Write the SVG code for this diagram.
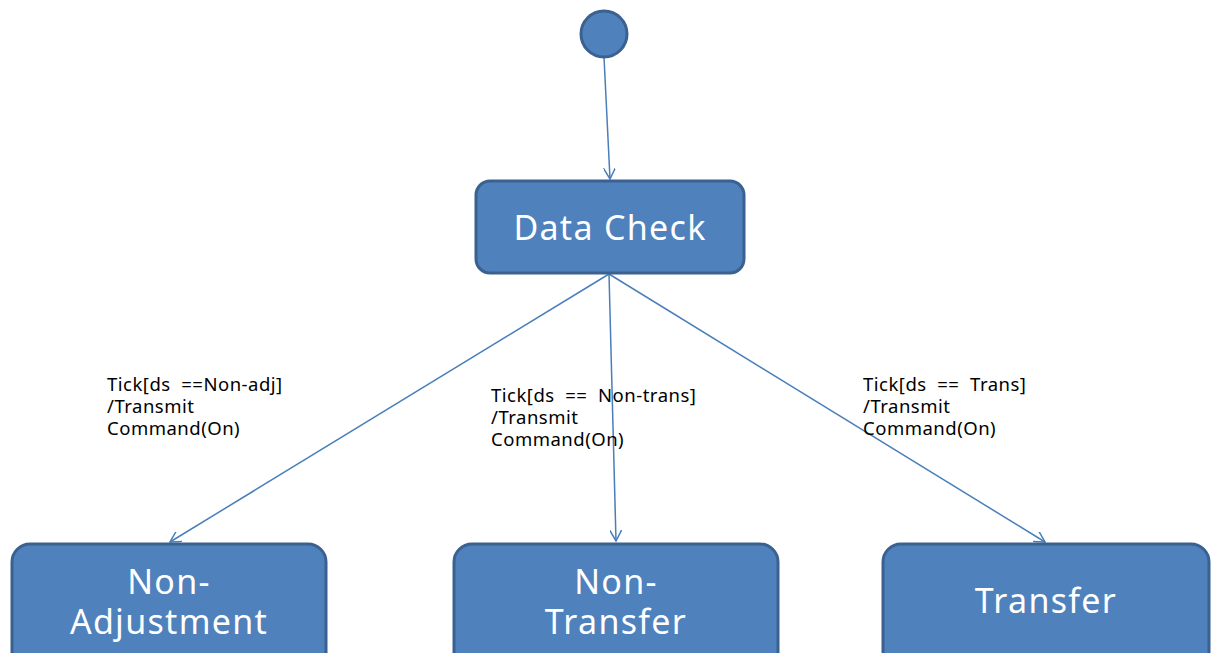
<svg xmlns="http://www.w3.org/2000/svg" width="1218" height="653" viewBox="0 0 1218 653">
<defs>
<style>
.node{fill:#4F81BD;stroke:#3A6190;stroke-width:3}
.nt{fill:#fff;font-family:"Noto Sans","Open Sans",sans-serif;font-size:34px;letter-spacing:1.3px;text-anchor:middle}
.lbl{fill:#000;font-family:"Noto Sans","Open Sans",sans-serif;font-size:18.5px;letter-spacing:0.5px;white-space:pre}
.edge{stroke:#4A7EBB;stroke-width:1.5;fill:none}
</style>
<marker id="arr" viewBox="0 0 12 12" refX="11" refY="6" markerWidth="12" markerHeight="12" markerUnits="userSpaceOnUse" orient="auto">
<path d="M0,0 L11,6 L0,12" fill="none" stroke="#4A7EBB" stroke-width="1.5"/>
</marker>
</defs>
<rect width="1218" height="653" fill="#fff"/>
<g id="connectors">
<line class="edge" x1="604" y1="57" x2="610" y2="179" marker-end="url(#arr)"/>
<line class="edge" x1="609" y1="274" x2="170" y2="542" marker-end="url(#arr)"/>
<line class="edge" x1="609" y1="274" x2="616" y2="541" marker-end="url(#arr)"/>
<line class="edge" x1="609" y1="274" x2="1045" y2="542" marker-end="url(#arr)"/>
<text class="lbl"><tspan x="107" y="391">Tick[ds  ==Non-adj]</tspan><tspan x="107" y="413">/Transmit</tspan><tspan x="107" y="435">Command(On)</tspan></text>
<text class="lbl"><tspan x="491" y="402">Tick[ds  ==  Non-trans]</tspan><tspan x="491" y="424">/Transmit</tspan><tspan x="491" y="446">Command(On)</tspan></text>
<text class="lbl"><tspan x="863" y="391">Tick[ds  ==  Trans]</tspan><tspan x="863" y="413">/Transmit</tspan><tspan x="863" y="435">Command(On)</tspan></text>
</g>
<g id="start"><circle class="node" cx="604" cy="34" r="23"/></g>
<g id="data-check"><rect class="node" x="476" y="181" width="268" height="92" rx="14"/><text class="nt" x="610" y="240">Data Check</text></g>
<g id="non-adjustment"><rect class="node" x="12" y="544" width="314" height="130" rx="18"/><text class="nt" x="169" y="594">Non-</text><text class="nt" x="169" y="634">Adjustment</text></g>
<g id="non-transfer"><rect class="node" x="454" y="544" width="324" height="130" rx="18"/><text class="nt" x="616" y="594">Non-</text><text class="nt" x="616" y="634">Transfer</text></g>
<g id="transfer"><rect class="node" x="883" y="544" width="326" height="130" rx="18"/><text class="nt" x="1046" y="613">Transfer</text></g>
</svg>
